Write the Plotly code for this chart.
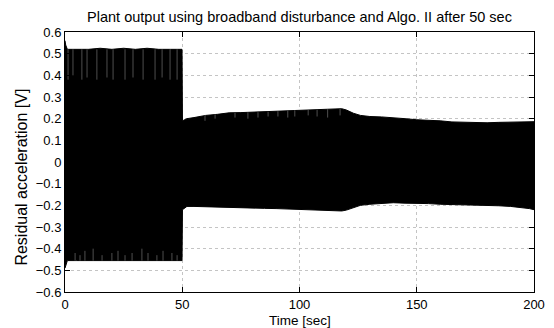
import plotly.graph_objects as go

# Envelope of the residual acceleration signal
time_s = [0, 0.3, 1, 5, 10, 15, 20, 25, 30, 35, 40, 45, 49.9, 50.1, 52, 55, 60, 65, 70, 75,
          80, 85, 90, 95, 100, 105, 110, 115, 118, 120, 123, 126, 130, 135, 140, 145, 150,
          155, 160, 165, 170, 175, 180, 185, 190, 195, 198, 200]
upper_v = [0.56, 0.54, 0.52, 0.52, 0.52, 0.525, 0.52, 0.525, 0.52, 0.525, 0.52, 0.52, 0.52,
           0.19, 0.20, 0.205, 0.215, 0.22, 0.227, 0.228, 0.23, 0.232, 0.235, 0.238, 0.24,
           0.24, 0.242, 0.245, 0.246, 0.24, 0.225, 0.215, 0.21, 0.208, 0.205, 0.2, 0.195,
           0.193, 0.19, 0.185, 0.183, 0.182, 0.181, 0.183, 0.185, 0.186, 0.186, 0.186]
lower_v = [-0.49, -0.48, -0.455, -0.455, -0.455, -0.458, -0.455, -0.455, -0.458, -0.455,
           -0.455, -0.455, -0.455, -0.22, -0.205, -0.205, -0.207, -0.208, -0.21, -0.211,
           -0.212, -0.214, -0.215, -0.217, -0.218, -0.22, -0.222, -0.225, -0.226, -0.222,
           -0.21, -0.2, -0.195, -0.19, -0.188, -0.19, -0.19, -0.192, -0.195, -0.196, -0.197,
           -0.198, -0.2, -0.202, -0.205, -0.21, -0.215, -0.22]

# Brief dips of the signal peaks (thin light streaks inside the dark band)
dip_top_t = [1.3, 3.4, 7.2, 9.4, 13.6, 17.9, 20.5, 25.6, 29.0, 33.3, 38.4, 41.4, 44.8, 47.8,
             59.7, 64.0, 72.5, 78.0, 82.3, 86.6, 90.8, 95.0, 98.0, 103.7, 107.5, 112.0, 117.3]
dip_top_from = [0.52] * 14 + [0.215, 0.22, 0.227, 0.229, 0.23, 0.232, 0.234, 0.237, 0.239,
                              0.24, 0.241, 0.243, 0.245]
dip_top_to = [0.38, 0.40, 0.38, 0.39, 0.38, 0.39, 0.38, 0.38, 0.39, 0.38, 0.38, 0.39, 0.38,
              0.38, 0.19, 0.20, 0.205, 0.20, 0.205, 0.21, 0.21, 0.205, 0.21, 0.215, 0.21,
              0.205, 0.215]
dip_bot_t = [4.3, 6.4, 8.5, 12.0, 15.8, 20.0, 22.6, 25.6, 28.6, 32.8, 35.4, 39.2, 41.8,
             45.6, 47.8]
dip_bot_from = [-0.455] * 15
dip_bot_to = [-0.42, -0.43, -0.41, -0.40, -0.43, -0.42, -0.41, -0.43, -0.42, -0.40, -0.42,
              -0.43, -0.41, -0.42, -0.43]

y_ticks = [round(-0.6 + 0.1 * i, 1) for i in range(13)]
x_ticks = [0, 50, 100, 150, 200]

dip_x, dip_y = [], []
for t, a, b in list(zip(dip_top_t, dip_top_from, dip_top_to)) + list(zip(dip_bot_t, dip_bot_from, dip_bot_to)):
    dip_x += [t, t, None]
    dip_y += [a, b, None]

fig = go.Figure()
fig.add_trace(go.Scatter(x=time_s, y=lower_v, mode="lines",
                         line=dict(color="black", width=1), showlegend=False))
fig.add_trace(go.Scatter(x=time_s, y=upper_v, mode="lines", fill="tonexty",
                         fillcolor="black", line=dict(color="black", width=1),
                         showlegend=False))
fig.add_trace(go.Scatter(x=dip_x, y=dip_y, mode="lines",
                         line=dict(color="#707070", width=0.7), showlegend=False))

font = "Liberation Sans, Arial, Helvetica, sans-serif"
axis_common = dict(
    showline=True, linecolor="black", linewidth=1, mirror="ticks",
    ticks="inside", ticklen=5, tickcolor="black", automargin=False,
    showgrid=True, gridcolor="#c4c4c4", griddash="dot", gridwidth=1,
    zeroline=False, tickfont=dict(family=font, size=13, color="black"),
)
fig.update_xaxes(range=[0, 200], tickvals=x_ticks, **axis_common)
fig.update_yaxes(range=[-0.6, 0.6], tickvals=y_ticks,
                 ticktext=[("0" if v == 0 else f"{v:.1f}".replace("-", "\u2212")) for v in y_ticks],
                 **axis_common)
# The page body has an 8px default margin, so the figure is 8px smaller and margins shifted.
fig.update_layout(
    width=546, height=320,
    margin=dict(l=57, r=20, t=24, b=36),
    paper_bgcolor="white", plot_bgcolor="white",
    title=dict(text="Plant output using broadband disturbance and Algo. II after 50 sec",
               x=0.5, xref="paper", y=1 - 8.5 / 320, yref="container", yanchor="middle",
               font=dict(family=font, size=14.5, color="black")),
    font=dict(family=font),
    annotations=[
        dict(text="Time [sec]", xref="paper", yref="paper", x=0.5, y=0,
             yanchor="middle", xanchor="center", yshift=-28, showarrow=False,
             font=dict(family=font, size=13.5, color="black")),
        dict(text="Residual acceleration [V]", xref="paper", yref="paper", x=0, y=0.44,
             xanchor="center", yanchor="middle", xshift=-43, textangle=-90,
             showarrow=False, font=dict(family=font, size=16, color="black")),
    ],
)
fig.write_html("out.html")
